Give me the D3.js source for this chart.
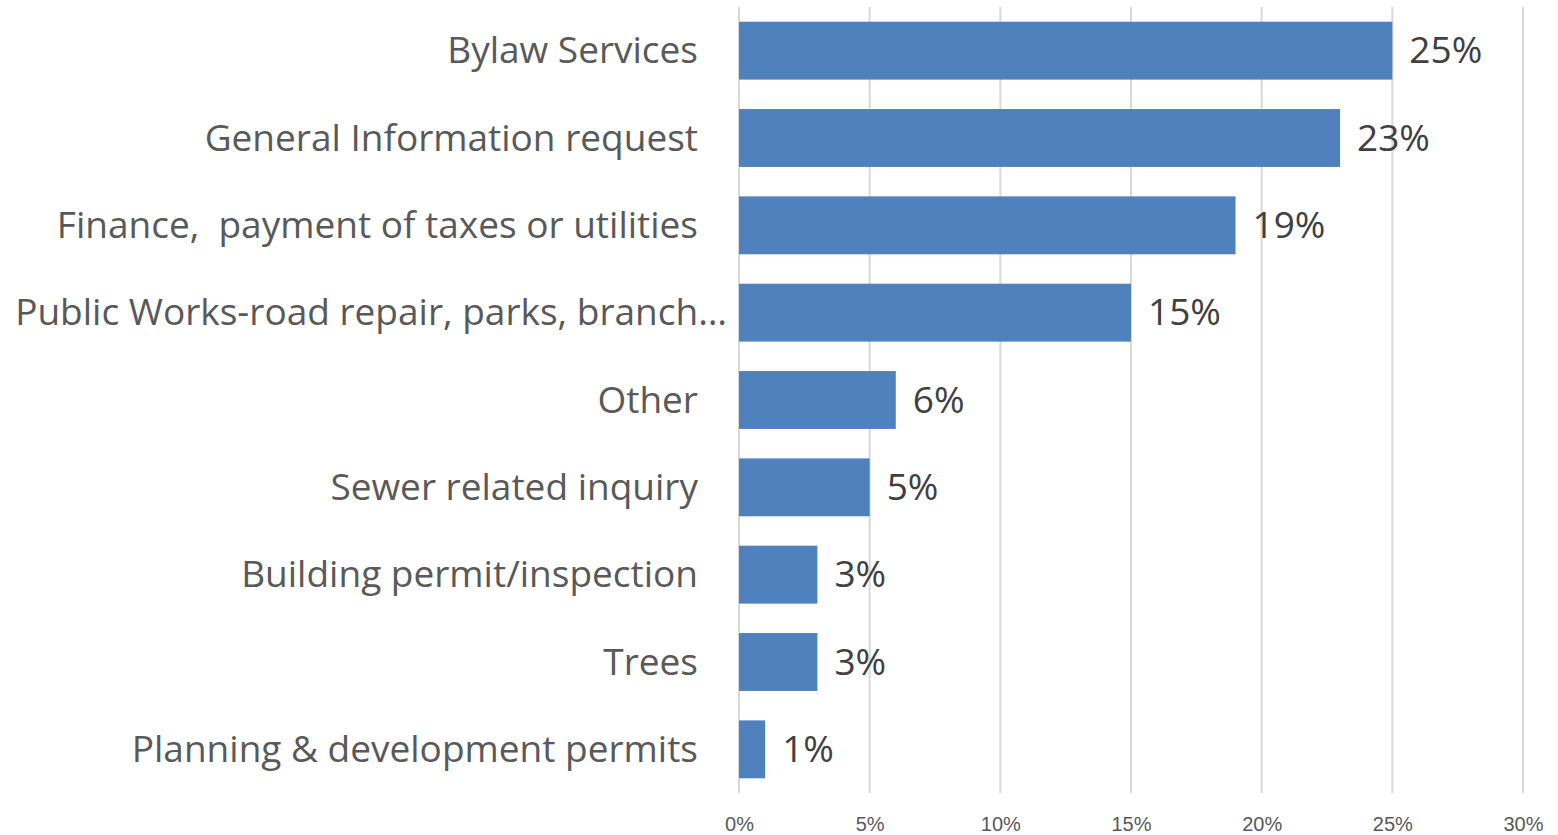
<!DOCTYPE html>
<html>
<head>
<meta charset="utf-8">
<script src="https://cdn.jsdelivr.net/npm/d3@7"></script>
<style>
  body { margin: 0; background: #fff; }
  svg { display: block; font-family: "Open Sans", "Noto Sans", sans-serif; }
  text.cat { white-space: pre; }
</style>
</head>
<body>
<div class="chart"></div>
<script>
// categories, top to bottom
var categories = [
    "Bylaw Services",
    "General Information request",
    "Finance,  payment of taxes or utilities",
    "Public Works-road repair, parks, branch…",
    "Other",
    "Sewer related inquiry",
    "Building permit/inspection",
    "Trees",
    "Planning & development permits"
];
// share of requests (%)
var shares = [25, 23, 19, 15, 6, 5, 3, 3, 1];
// x axis ticks
var tickValues = [0, 5, 10, 15, 20, 25, 30];

var data = categories.map(function(c, i) {
    return { name: c, value: shares[i] };
});

var svgWidth = 1558;
var svgHeight = 835;
var margin = { top: 7, bottom: 42, right: 35, left: 739 };
var width = svgWidth - margin.left - margin.right;
var height = svgHeight - margin.top - margin.bottom;

var svg = d3.select(".chart")
    .append("svg")
    .attr("width", svgWidth)
    .attr("height", svgHeight);

var chartGroup = svg.append("g")
    .attr("transform", `translate(${margin.left}, ${margin.top})`);

var xScale = d3.scaleLinear()
    .domain([0, 30])
    .range([0, width]);

var yScale = d3.scaleBand()
    .domain(categories)
    .range([0, height])
    .paddingInner(0.337)
    .paddingOuter(0.1685);

// gridlines
chartGroup.append("g")
    .selectAll("line")
    .data(tickValues)
    .enter()
    .append("line")
    .attr("x1", d => xScale(d))
    .attr("x2", d => xScale(d))
    .attr("y1", 0)
    .attr("y2", height)
    .attr("stroke", "#d9d9d9")
    .attr("stroke-width", 2);

// x axis labels
var bottomAxis = d3.axisBottom(xScale)
    .tickValues(tickValues)
    .tickFormat(d => d + "%")
    .tickSize(0)
    .tickPadding(24);

var xAxis = chartGroup.append("g")
    .attr("transform", `translate(0, ${height})`)
    .call(bottomAxis);
xAxis.select(".domain").remove();
xAxis.selectAll("text")
    .attr("fill", "#595959")
    .style("font-size", "20px");

// bars
chartGroup.selectAll("rect.bar")
    .data(data)
    .enter()
    .append("rect")
    .attr("class", "bar")
    .attr("x", xScale(0))
    .attr("y", d => yScale(d.name))
    .attr("width", d => xScale(d.value) - xScale(0))
    .attr("height", yScale.bandwidth())
    .attr("fill", "#4f81bd");

// value labels
chartGroup.selectAll("text.value")
    .data(data)
    .enter()
    .append("text")
    .attr("class", "value")
    .attr("x", d => xScale(d.value) + 17)
    .attr("y", d => yScale(d.name) + yScale.bandwidth() / 2)
    .attr("dy", "0.34em")
    .attr("fill", "#404040")
    .style("font-size", "37px")
    .text(d => d.value + "%");

// category labels
chartGroup.selectAll("text.cat")
    .data(data)
    .enter()
    .append("text")
    .attr("class", "cat")
    .attr("x", (d, i) => i === 3 ? -12 : -41)
    .attr("y", d => yScale(d.name) + yScale.bandwidth() / 2)
    .attr("dy", "0.34em")
    .attr("text-anchor", "end")
    .attr("fill", "#595959")
    .style("font-size", "37px")
    .text(d => d.name);
</script>
</body>
</html>
